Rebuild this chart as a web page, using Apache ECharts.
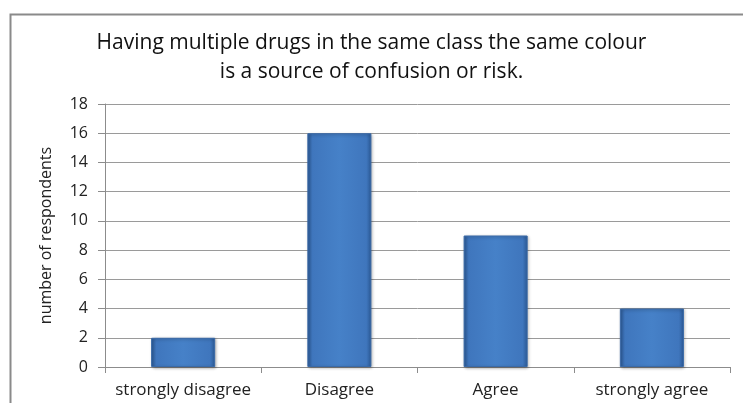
<!DOCTYPE html>
<html><head><meta charset="utf-8">
<script src="https://cdn.jsdelivr.net/npm/echarts@6/dist/echarts.min.js"></script>
<style>html,body{margin:0;padding:0;background:#fff}#c{width:743px;height:403px}</style>
</head><body><div id="c"></div>
<script>
const categories = ['strongly disagree', 'Disagree', 'Agree', 'strongly agree'];
const respondents = [2, 16, 9, 4];
const yTicks = [0, 2, 4, 6, 8, 10, 12, 14, 16, 18];
const titleText = 'Having multiple drugs in the same class the same colour\nis a source of confusion or risk.';
const yName = 'number of respondents';

const font = '"Open Sans", "Noto Sans", sans-serif';
const chart = echarts.init(document.getElementById('c'), null, {renderer: 'canvas'});
chart.setOption({
  animation: false,
  graphic: [{
    type: 'rect', left: 8, top: 12, shape: {x: 0, y: 0, width: 780, height: 430},
    style: {fill: 'none', stroke: '#8a8a8a', lineWidth: 2}, z: -1
  }],
  title: {
    text: titleText, left: 'center', top: 24,
    textStyle: {fontFamily: font, fontSize: 21, fontWeight: 'normal', color: '#111', lineHeight: 29}
  },
  grid: {left: 105, right: 13, top: 104, bottom: 36},
  xAxis: {
    type: 'category', data: categories,
    axisLine: {lineStyle: {color: '#8c8c8c'}},
    axisTick: {show: true, length: 6, lineStyle: {color: '#8c8c8c'}},
    axisLabel: {fontFamily: font, fontSize: 17, color: '#222', margin: 15, interval: 0, hideOverlap: false}
  },
  yAxis: {
    type: 'value', min: 0, max: 18, interval: 2,
    name: yName, nameLocation: 'middle', nameGap: 51,
    nameTextStyle: {fontFamily: font, fontSize: 16, color: '#222'},
    axisLine: {show: true, lineStyle: {color: '#8c8c8c'}},
    axisTick: {show: true, length: 7, lineStyle: {color: '#8c8c8c'}},
    axisLabel: {fontFamily: font, fontSize: 16, color: '#222', margin: 17,
      formatter: v => yTicks.includes(v) ? String(v) : ''},
    splitLine: {lineStyle: {color: '#9a9a9a'}}
  },
  series: [{
    type: 'bar', data: respondents, barWidth: '41%',
    itemStyle: {
      color: new echarts.graphic.LinearGradient(0, 0, 1, 0, [
        {offset: 0, color: '#2c5a96'},
        {offset: 0.08, color: '#3f76bd'},
        {offset: 0.5, color: '#4681c8'},
        {offset: 0.92, color: '#3f76bd'},
        {offset: 1, color: '#2c5a96'}
      ]),
      borderColor: '#3a6aa8', borderWidth: 1,
      shadowColor: 'rgba(0,0,0,0.3)', shadowBlur: 3, shadowOffsetX: 1, shadowOffsetY: 1
    }
  }]
});
</script></body></html>
